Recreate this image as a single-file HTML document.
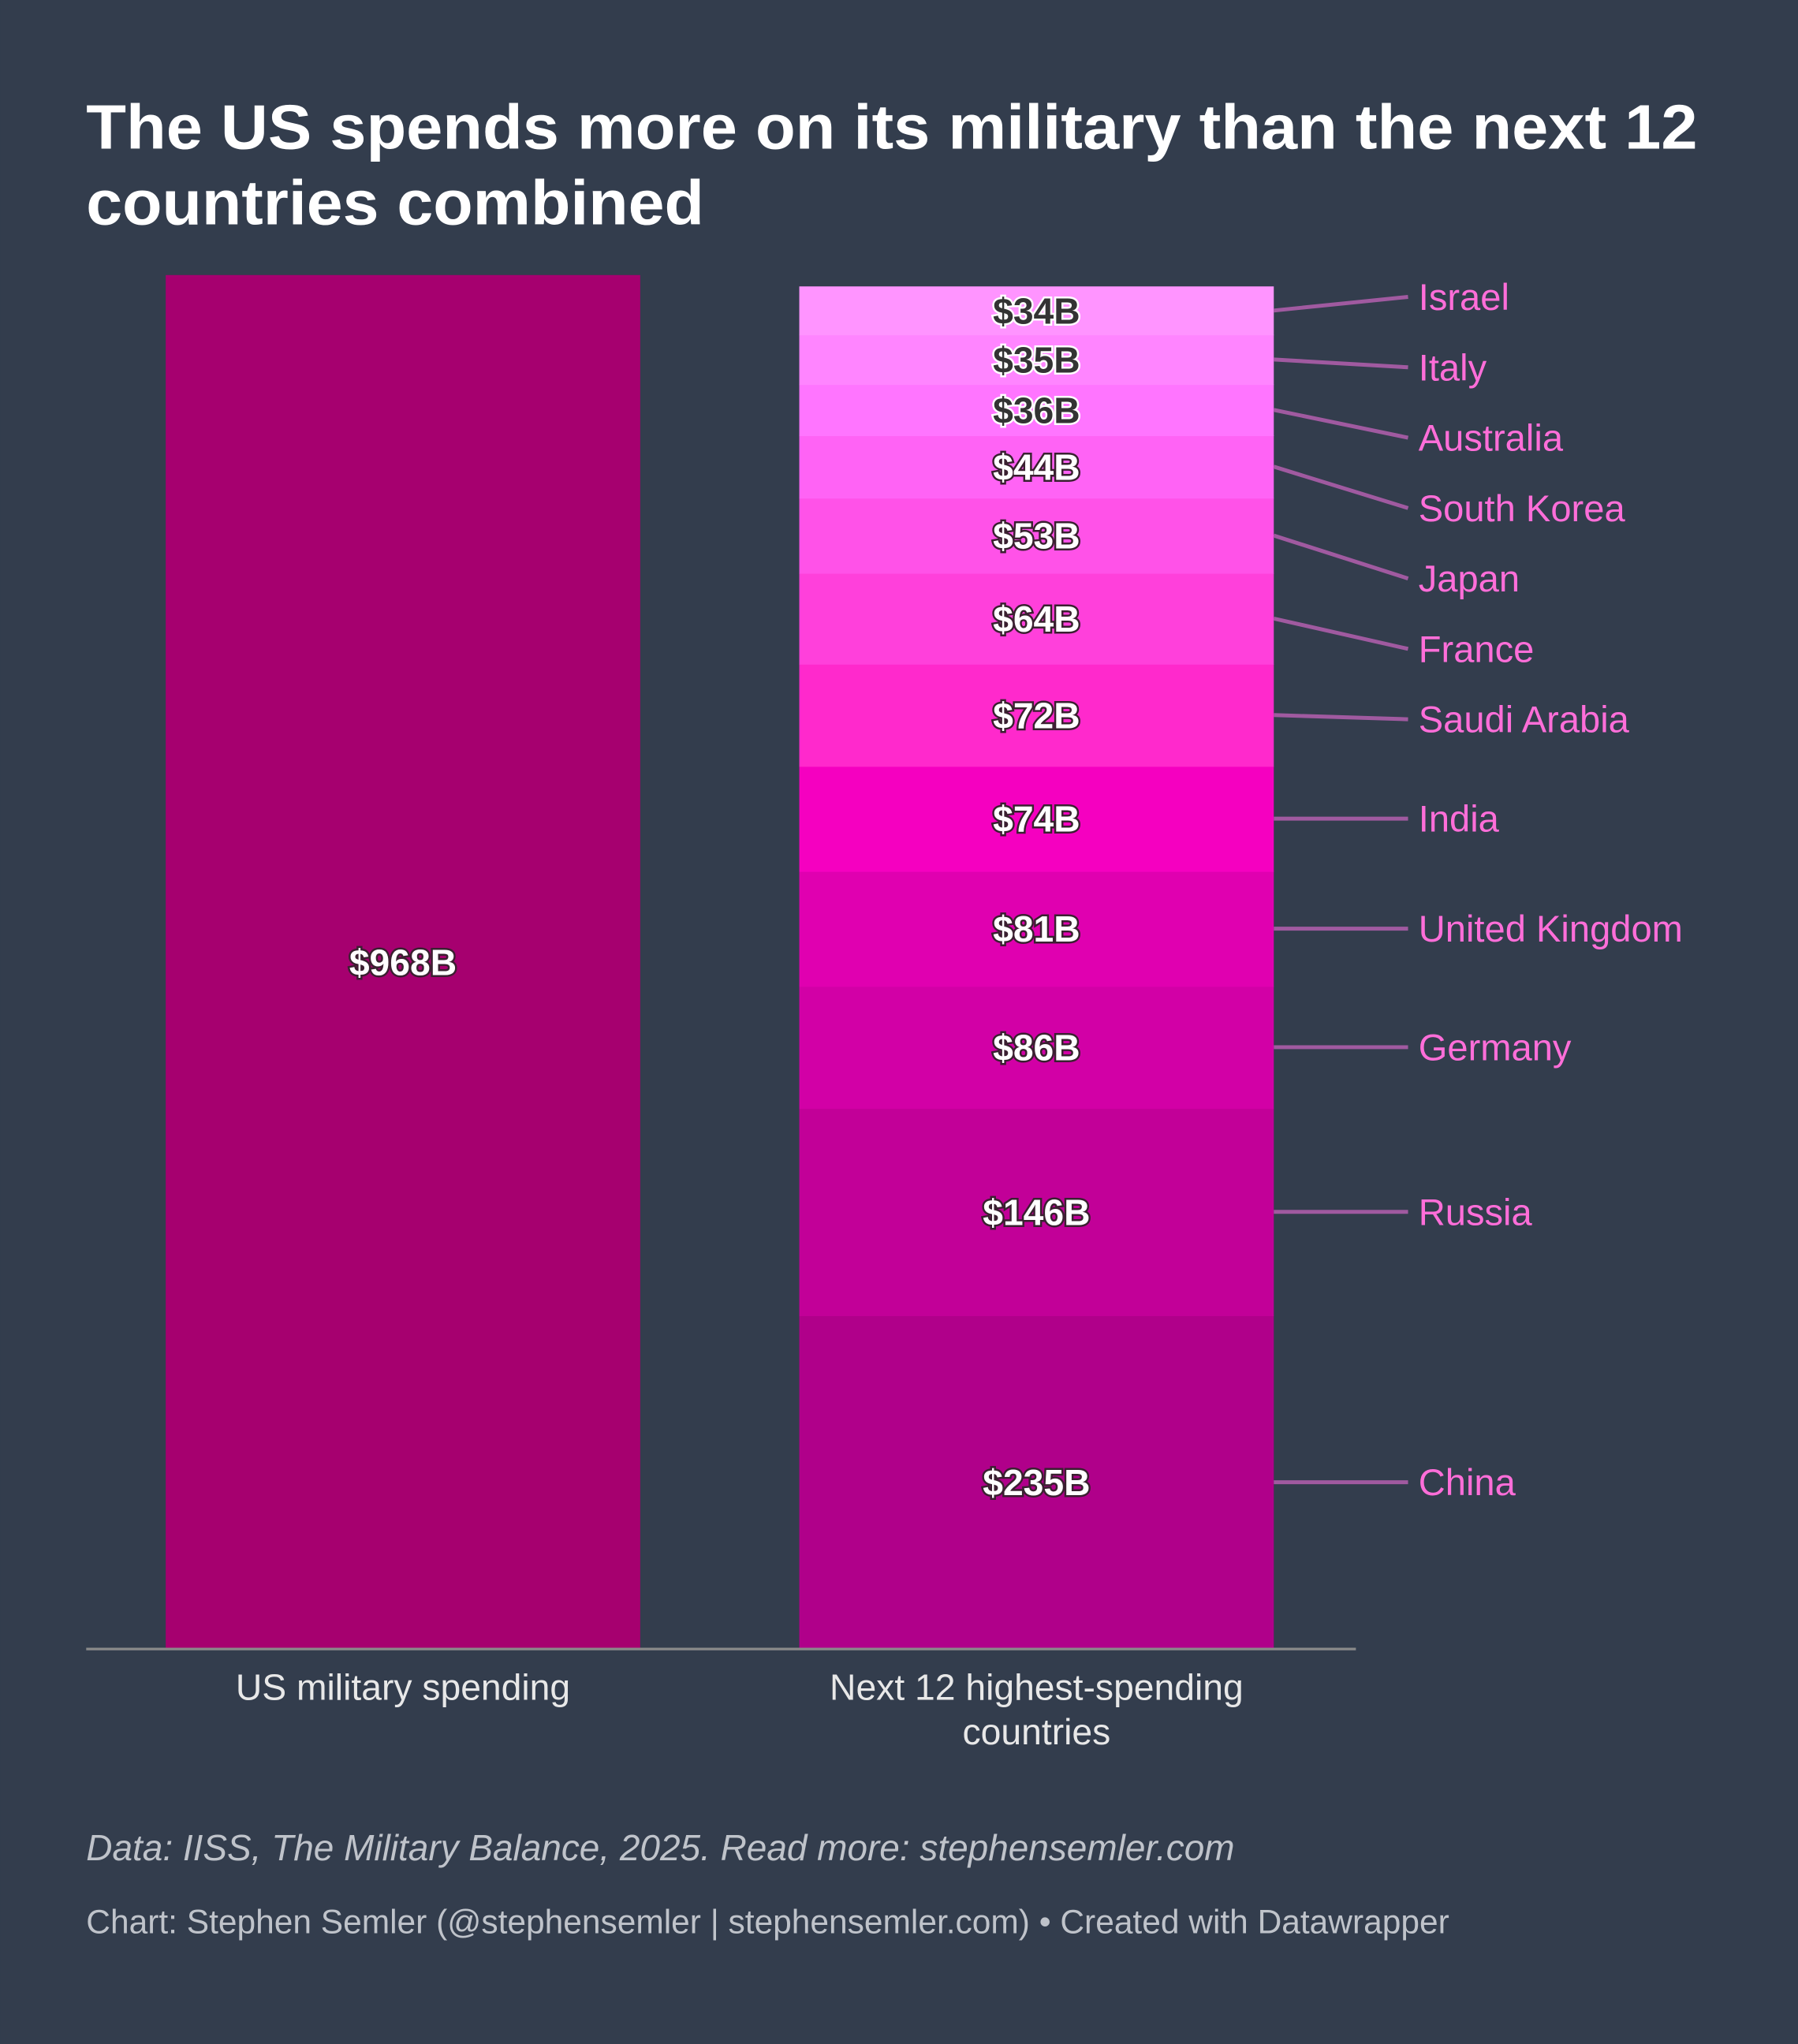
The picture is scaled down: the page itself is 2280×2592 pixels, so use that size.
<!DOCTYPE html>
<html><head><meta charset="utf-8"><style>
html,body{margin:0;padding:0;background:#333d4d;}
svg{display:block;font-family:"Liberation Sans",sans-serif;}
</style></head><body>
<svg id="chart" width="2280" height="2592" viewBox="0 0 1379 1568" xmlns="http://www.w3.org/2000/svg">
<rect x="0" y="0" width="1379" height="1568" fill="#333d4d"/>
<text x="66" y="114" font-size="48" font-weight="bold" fill="#ffffff" textLength="1236" lengthAdjust="spacingAndGlyphs">The US spends more on its military than the next 12</text>
<text x="66" y="172" font-size="48" font-weight="bold" fill="#ffffff" textLength="474" lengthAdjust="spacingAndGlyphs">countries combined</text>
<g id="bars"></g>
<line x1="66" x2="1040" y1="1265" y2="1265" stroke="#8a8a8a" stroke-width="2"/>
<text x="309" y="1304" font-size="28" fill="#e8e8e8" text-anchor="middle">US military spending</text>
<text x="795" y="1304" font-size="28" fill="#e8e8e8" text-anchor="middle">Next 12 highest-spending</text>
<text x="795" y="1338" font-size="28" fill="#e8e8e8" text-anchor="middle">countries</text>
<text x="66" y="1427" font-size="27.8" font-style="italic" fill="#bfc3ca">Data: IISS, The Military Balance, 2025. Read more: stephensemler.com</text>
<text x="66" y="1483" font-size="25.7" fill="#bfc3ca">Chart: Stephen Semler (@stephensemler | stephensemler.com) • Created with Datawrapper</text>
</svg>
<script>
const countries=["China","Russia","Germany","United Kingdom","India","Saudi Arabia","France","Japan","South Korea","Australia","Italy","Israel"];
const values=[235,146,86,81,74,72,64,53,44,36,35,34];
const colors=["#b0008a","#c20098","#d200a6","#e000b0","#f500c0","#ff29cc","#ff40db","#ff52e8","#ff63f5","#ff75ff","#ff85ff","#ff94ff"];
const usValue=968;
const NS="http://www.w3.org/2000/svg";
const g=document.getElementById('bars');
const base=1265, pxPer=1054/968;
function y(v){return base-v*pxPer;}
function mk(t,a){const e=document.createElementNS(NS,t);for(const k in a)e.setAttribute(k,a[k]);g.appendChild(e);return e;}
const us=mk('rect',{x:127,y:y(usValue),width:364,height:base-y(usValue),fill:'#a6006f'});


const ut=mk('text',{x:309,y:(base+y(usValue))/2+10,'font-size':28,'font-weight':'bold',fill:'#fff','text-anchor':'middle',stroke:'#3a2030','stroke-width':3,'paint-order':'stroke'});
ut.textContent='$'+usValue+'B';


let cum=0;const centers=[];
values.forEach((v,i)=>{
  const y0=y(cum),y1=y(cum+v);cum+=v;
  const r=mk('rect',{x:613,y:y1,width:364,height:y0-y1+0.5,fill:colors[i]});
  
  
  const c=(y0+y1)/2;centers.push(c);
  const dark=i>=9;
  const t=mk('text',{x:795,y:c+10,'font-size':28,'font-weight':'bold',fill:dark?'#333':'#fff','text-anchor':'middle',stroke:dark?'#ffffff':'#3a2030','stroke-width':3,'paint-order':'stroke'});
  t.textContent='$'+v+'B';
  
  
});
const ly=centers.slice();
for(let it=0;it<400;it++){for(let i=0;i<ly.length-1;i++){const gap=ly[i]-ly[i+1];if(gap<54){const d=54-gap;ly[i]+=d*0.7;ly[i+1]-=d*0.3;}}}
countries.forEach((n,i)=>{
  const l=mk('line',{x1:977,y1:centers[i],x2:1080,y2:ly[i],stroke:'#a05aa0','stroke-width':3});
  
  
  const t=mk('text',{x:1088,y:ly[i]+10,'font-size':28.5,fill:'#ff6ed9'});
  t.textContent=n;
  
  
});
</script>
</body></html>
